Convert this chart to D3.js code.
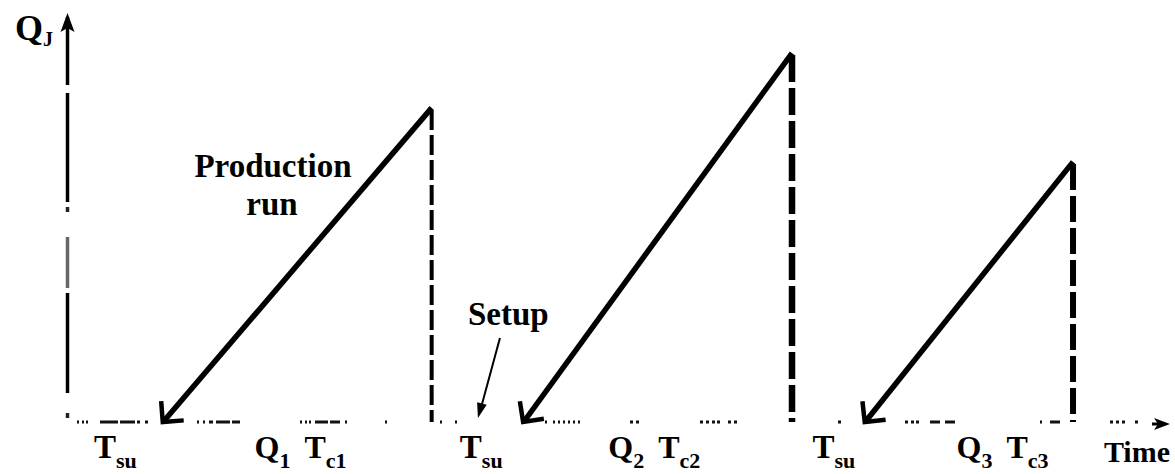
<!DOCTYPE html>
<html>
<head>
<meta charset="utf-8">
<script src="https://cdn.jsdelivr.net/npm/d3@7"></script>
<style>
  html, body { margin: 0; padding: 0; background: #fff; }
  svg { display: block; }
  text { font-family: "Liberation Serif", "Times New Roman", serif; font-weight: bold; fill: #000; }
</style>
</head>
<body>
<svg id="chart" width="1175" height="474"></svg>
<script>
// Production cycle data (time and inventory in relative units)
const runStart = [8.6, 41.3, 72.3];   // setup ends, production run begins
const runEnd   = [33.0, 65.7, 91.2];  // production run ends
const runPeak  = [76.8, 90.2, 63.6];  // batch quantity Q_j reached at end of run

// Labels under the time axis
const runLabels   = [["Q", "1", "T", "c1"], ["Q", "2", "T", "c2"], ["Q", "3", "T", "c3"]];
const runLabelAt  = [21.1, 53.2, 84.8];
const setupLabel  = ["T", "su"];
const setupLabelAt = [4.3, 37.5, 69.5];
const yAxisLabel  = ["Q", "J"];
const xAxisLabel  = "Time";
const setupPointAt = 37.2;

const svg = d3.select("#chart");

const x = d3.scaleLinear().domain([0, 100]).range([68, 1170]);
const y = d3.scaleLinear().domain([0, 100]).range([422, 13]);

const x0 = x(0), y0 = y(0);

// ---- vertical axis: a worn line drawn as pieces, offsets measured from the top ----
const axisPieces = [
  { from: 4, to: 72, c: "#000" },
  { from: 80, to: 189, c: "#000" },
  { from: 194, to: 199, c: "#222" },
  { from: 224, to: 275, c: "#666" },
  { from: 280, to: 380, c: "#000" },
  { from: 400, to: 405, c: "#222" }
];
const axTop = y(100);
svg.append("g").selectAll("line")
  .data(axisPieces)
  .join("line")
  .attr("x1", x0 - 0.5).attr("x2", x0 - 0.5)
  .attr("y1", d => axTop + d.from)
  .attr("y2", d => axTop + d.to)
  .attr("stroke", d => d.c)
  .attr("stroke-width", 3.5);

svg.append("path")
  .attr("d", `M${x0 - 0.5},${axTop} l-7,19 l7,-4 l7,4 Z`)
  .attr("fill", "#000");

// ---- horizontal time axis (sparse dotted line) ----
svg.append("path")
  .attr("d", `M${x0 + 9},${y0}H${x(100) - 12}`)
  .attr("stroke", "#111")
  .attr("stroke-width", 3)
  .attr("fill", "none")
  .attr("stroke-dasharray",
    "2 3 2 2 2 12 18 2 15 2 3 5 3 49 2 4 2 4 4 3 14 2 8 60 2 3 2 2 2 4 13 2 10 5 2 38 " +
    "2 53 2 13 2 88 2 6 2 3 2 3 2 3 2 3 2 3 2 50 3 3 3 61 3 3 3 3 3 2 3 8 3 3 3 101 " +
    "3 64 3 3 3 2 3 11 10 5 10 85 2 8 10 50 3 3 3 3 3 10 3 100");

svg.append("path")
  .attr("d", `M${x(100)},${y0 + 2} l-16,-6 l4,6 l-4,6 Z`)
  .attr("fill", "#000");
svg.append("line")
  .attr("x1", x(100) - 18).attr("x2", x(100) - 10)
  .attr("y1", y0 + 2).attr("y2", y0 + 2)
  .attr("stroke", "#000").attr("stroke-width", 3);

// ---- production runs ----
const dropStyle = [
  { width: 4, dash: "20 5" },
  { width: 6.5, dash: "27 6" },
  { width: 6, dash: "26 6" }
];

const runs = runStart.map((s, i) => ({ s, e: runEnd[i], q: runPeak[i], i }));

const g = svg.append("g");

runs.forEach(r => {
  const xs = x(r.s), xe = x(r.e), yp = y(r.q);
  // ramp: inventory builds linearly during the run
  g.append("line")
    .attr("x1", xe).attr("y1", yp)
    .attr("x2", xs + 2).attr("y2", y0 - 2)
    .attr("stroke", "#000").attr("stroke-width", 5.5)
    .attr("stroke-linecap", "butt");

  // open arrowhead at the start of the run
  const ang = Math.atan2(y0 - yp, xs - xe); // direction towards the tip
  const len = 21;
  const b1 = ang + Math.PI - Math.PI / 4;
  const b2 = ang + Math.PI + Math.PI / 4;
  g.append("path")
    .attr("d", `M${xs + len * Math.cos(b1)},${y0 + len * Math.sin(b1)}L${xs},${y0}L${xs + len * Math.cos(b2)},${y0 + len * Math.sin(b2)}`)
    .attr("stroke", "#000").attr("stroke-width", 4.5)
    .attr("fill", "none");

  // dashed drop at the end of the run
  const st = dropStyle[r.i];
  g.append("line")
    .attr("x1", xe).attr("y1", yp + 2)
    .attr("x2", xe).attr("y2", y0)
    .attr("stroke", "#000").attr("stroke-width", st.width)
    .attr("stroke-dasharray", st.dash);
});

// ---- labels ----
function subLabel(sel, parts, xc, yb, big, small, gap) {
  const t = sel.append("text")
    .attr("x", xc).attr("y", yb)
    .attr("text-anchor", "middle");
  t.append("tspan").attr("font-size", big).text(parts[0]);
  t.append("tspan").attr("font-size", small).attr("dy", 10).text(parts[1]);
  if (parts.length > 2) {
    t.append("tspan").attr("font-size", big).attr("dy", -10).attr("dx", gap).text(parts[2]);
    t.append("tspan").attr("font-size", small).attr("dy", 10).text(parts[3]);
  }
  return t;
}

runLabels.forEach((p, i) => subLabel(svg, p, x(runLabelAt[i]), 458, 32, 22, 14));
setupLabelAt.forEach(v => subLabel(svg, setupLabel, x(v), 458, 33, 22, 0));

svg.append("text")
  .attr("x", x(100)).attr("y", 462)
  .attr("text-anchor", "end")
  .attr("font-size", 30)
  .text(xAxisLabel);

const yl = svg.append("text").attr("x", 15).attr("y", 40);
yl.append("tspan").attr("font-size", 36).text(yAxisLabel[0]);
yl.append("tspan").attr("font-size", 20).attr("dy", 6).text(yAxisLabel[1]);

// annotation: production run
svg.append("text")
  .attr("x", 273).attr("y", 177)
  .attr("text-anchor", "middle")
  .attr("font-size", 33)
  .text("Production");
svg.append("text")
  .attr("x", 272).attr("y", 215)
  .attr("text-anchor", "middle")
  .attr("font-size", 33)
  .text("run");

// annotation: setup
svg.append("text")
  .attr("x", 468).attr("y", 325)
  .attr("font-size", 33)
  .text("Setup");

const tipX = x(setupPointAt), tipY = y0 - 4;
const tailX = tipX + 22, tailY = tipY - 80;
svg.append("line")
  .attr("x1", tailX).attr("y1", tailY)
  .attr("x2", tipX + 3).attr("y2", tipY - 10)
  .attr("stroke", "#000").attr("stroke-width", 2);
{
  const a = Math.atan2(tipY - tailY, tipX - tailX);
  const L = 15, W = 5;
  const bx = tipX - L * Math.cos(a), by = tipY - L * Math.sin(a);
  svg.append("path")
    .attr("d", `M${tipX},${tipY}L${bx + W * Math.sin(a)},${by - W * Math.cos(a)}L${bx - W * Math.sin(a)},${by + W * Math.cos(a)}Z`)
    .attr("fill", "#000");
}
</script>
</body>
</html>
